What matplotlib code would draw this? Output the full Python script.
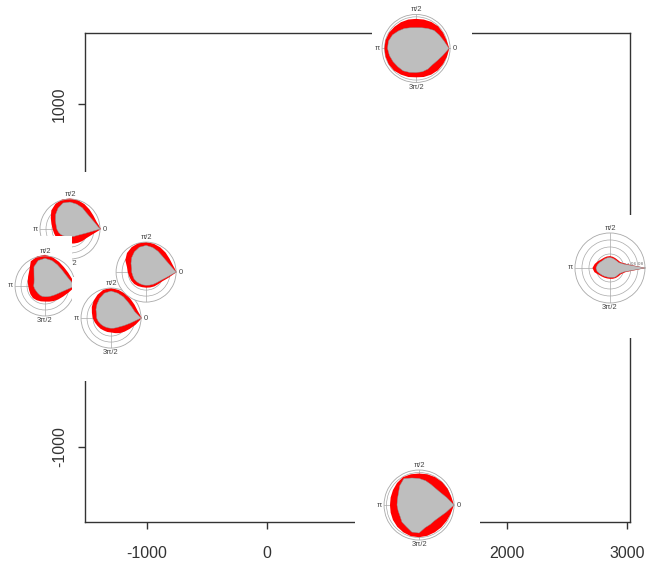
import numpy as np
import matplotlib
matplotlib.use("Agg")
import matplotlib.pyplot as plt

plt.rcParams["font.family"] = ["Liberation Sans", "DejaVu Sans"]
plt.rcParams["axes.unicode_minus"] = False

W, H = 648, 565

# main axes
x_ticks = [-1000, 0, 1000, 2000, 3000]
y_ticks = [-1000, 0, 1000]
x_range = (-1517, 3025)
y_range = (-1437, 1414)

# rose diagrams: sites in map units, radii at every 15 degrees
angles_deg = [0, 15, 30, 45, 60, 75, 90, 105, 120, 135, 150, 165,
              180, 195, 210, 225, 240, 255, 270, 285, 300, 315, 330, 345]
theta_labels = ["0", "π/2", "π", "3π/2"]
site_names = ["a", "c", "d", "b", "top", "bottom", "right"]
site_x = [-1642, -1850, -1300, -1008, 1242, 1267, 2858]
site_y = [271, -61, -248, 20, 1324, -1338, 44]

red_a = [1.04, 0.92, 0.90, 0.92, 0.96, 1.00, 1.02, 1.02, 0.97, 0.88, 0.74, 0.64,
         0.58, 0.55, 0.54, 0.53, 0.50, 0.48, 0.48, 0.50, 0.53, 0.57, 0.62, 0.75]
gray_a = [1.00, 0.85, 0.78, 0.77, 0.82, 0.86, 0.90, 0.90, 0.80, 0.68, 0.56, 0.48,
          0.44, 0.40, 0.36, 0.32, 0.28, 0.27, 0.26, 0.26, 0.28, 0.31, 0.38, 0.54]
red_c = [1.03, 0.93, 0.89, 0.89, 0.93, 0.99, 1.04, 1.02, 0.95, 0.74, 0.65, 0.60,
         0.56, 0.55, 0.56, 0.57, 0.55, 0.53, 0.52, 0.54, 0.58, 0.63, 0.70, 0.82]
gray_c = [1.00, 0.84, 0.78, 0.78, 0.82, 0.88, 0.92, 0.88, 0.74, 0.52, 0.42, 0.38,
          0.38, 0.36, 0.34, 0.34, 0.35, 0.36, 0.36, 0.37, 0.39, 0.43, 0.50, 0.64]
red_d = [1.03, 0.92, 0.90, 0.91, 0.94, 0.97, 1.00, 0.98, 0.90, 0.82, 0.74, 0.66,
         0.61, 0.56, 0.52, 0.50, 0.48, 0.48, 0.48, 0.52, 0.58, 0.64, 0.72, 0.85]
gray_d = [1.00, 0.82, 0.78, 0.78, 0.82, 0.86, 0.90, 0.86, 0.76, 0.66, 0.58, 0.50,
          0.48, 0.44, 0.40, 0.37, 0.35, 0.34, 0.34, 0.35, 0.37, 0.41, 0.50, 0.66]
red_b = [1.02, 0.92, 0.90, 0.92, 0.95, 0.98, 1.00, 1.00, 0.96, 0.90, 0.80, 0.66,
         0.61, 0.58, 0.57, 0.56, 0.54, 0.52, 0.52, 0.53, 0.55, 0.57, 0.62, 0.76]
gray_b = [1.00, 0.84, 0.77, 0.76, 0.80, 0.85, 0.89, 0.86, 0.78, 0.68, 0.58, 0.50,
          0.48, 0.46, 0.46, 0.45, 0.44, 0.44, 0.44, 0.45, 0.47, 0.50, 0.56, 0.70]
red_top = [0.98, 0.93, 0.92, 0.92, 0.90, 0.88, 0.87, 0.88, 0.89, 0.90, 0.92, 0.93,
           0.93, 0.93, 0.93, 0.92, 0.89, 0.87, 0.85, 0.87, 0.89, 0.91, 0.92, 0.94]
gray_top = [0.97, 0.85, 0.79, 0.75, 0.68, 0.63, 0.61, 0.63, 0.68, 0.73, 0.80, 0.84,
            0.84, 0.81, 0.78, 0.76, 0.76, 0.73, 0.71, 0.71, 0.70, 0.68, 0.72, 0.81]
red_bottom = [1.00, 0.95, 0.94, 0.93, 0.92, 0.91, 0.90, 0.91, 0.92, 0.89, 0.86, 0.84,
              0.83, 0.84, 0.86, 0.88, 0.90, 0.92, 0.92, 0.91, 0.90, 0.90, 0.91, 0.94]
gray_bottom = [1.00, 0.82, 0.71, 0.67, 0.68, 0.72, 0.76, 0.80, 0.87, 0.78, 0.68, 0.64,
               0.63, 0.62, 0.63, 0.69, 0.72, 0.80, 0.80, 0.67, 0.64, 0.63, 0.68, 0.80]
red_right = [1.02, 0.46, 0.34, 0.32, 0.32, 0.33, 0.34, 0.34, 0.34, 0.35, 0.39, 0.45,
             0.50, 0.46, 0.38, 0.34, 0.32, 0.31, 0.31, 0.32, 0.33, 0.34, 0.36, 0.46]
gray_right = [1.02, 0.42, 0.30, 0.28, 0.28, 0.29, 0.30, 0.30, 0.30, 0.30, 0.33, 0.37,
              0.40, 0.38, 0.33, 0.30, 0.28, 0.27, 0.27, 0.28, 0.30, 0.30, 0.32, 0.42]
right_rlabels = ["0.2", "0.4", "0.6", "0.8"]

red_series = [red_a, red_c, red_d, red_b, red_top, red_bottom, red_right]
gray_series = [gray_a, gray_c, gray_d, gray_b, gray_top, gray_bottom, gray_right]

# styling per inset: circle radius px, white box (left, right, top, bottom) px
inset_rad = [30, 30, 30, 30, 34, 35, 35]
inset_box = [(40, 42, 57, 55), (45, 27, 50, 51), (39, 41, 41, 63), (28, 44, 44, 16),
             (44, 56, 49, 47), (64, 61, 50, 60), (45, 38, 53, 70)]
grid_small = [0.2, 0.4, 0.6, 0.8]
grid_big = [0.2, 0.4, 0.6, 0.8, 0.93]

fig = plt.figure(figsize=(W / 100, H / 100), dpi=100)
ax = fig.add_axes([85 / W, (H - 522) / H, 545 / W, 489 / H])
ax.set_xlim(*x_range)
ax.set_ylim(*y_range)
ax.set_xticks(x_ticks)
ax.set_yticks(y_ticks)
ax.set_yticklabels([str(v) for v in y_ticks], rotation=90, va="center")
for s in ax.spines.values():
    s.set_color("#333333")
    s.set_linewidth(1.0)
ax.tick_params(direction="out", length=5, width=1.0, color="#333333",
               labelsize=11.5, labelcolor="#333333")
ax.tick_params(axis="x", pad=12)
ax.tick_params(axis="y", pad=8)

th = np.deg2rad(angles_deg)
gcol = "#A8A8A8"

for i, name in enumerate(site_names):
    cx, cy = ax.transData.transform((site_x[i], site_y[i]))
    l, r, t, b = inset_box[i]
    bg = fig.add_axes([(cx - l) / W, (cy - b) / H, (l + r) / W, (t + b) / H])
    bg.set_xticks([])
    bg.set_yticks([])
    bg.set_facecolor("white")
    for s in bg.spines.values():
        s.set_visible(False)

    rad = inset_rad[i]
    pa = fig.add_axes([(cx - rad) / W, (cy - rad) / H, 2 * rad / W, 2 * rad / H],
                      projection="polar")
    pa.set_facecolor("white")
    pa.set_axisbelow(True)
    pa.fill(th, red_series[i], color="#FF0000", lw=0, clip_on=False, zorder=2)
    pa.fill(th, gray_series[i], facecolor="#BEBEBE", edgecolor="#8C8C8C",
            lw=0.3, clip_on=False, zorder=3)
    pa.set_ylim(0, 1)
    pa.set_thetagrids([0, 90, 180, 270], theta_labels, fontsize=5.4, color="#444444")
    grid = grid_big if name in ("top", "bottom") else grid_small
    if name == "right":
        pa.set_rgrids(grid, labels=right_rlabels, fontsize=3.2, color="#666666")
        pa.set_rlabel_position(5)
    else:
        pa.set_rgrids(grid, labels=[""] * len(grid))
    pa.grid(color=gcol, lw=0.5)
    pa.spines["polar"].set_color(gcol)
    pa.spines["polar"].set_linewidth(0.6)
    pa.tick_params(axis="x", length=0, pad=-3.5)
    # angle labels stay inside the inset's white box
    for lab in pa.get_xticklabels():
        lab.set_clip_box(bg.bbox)
        lab.set_clip_on(True)

fig.savefig("out.png", dpi=100)
